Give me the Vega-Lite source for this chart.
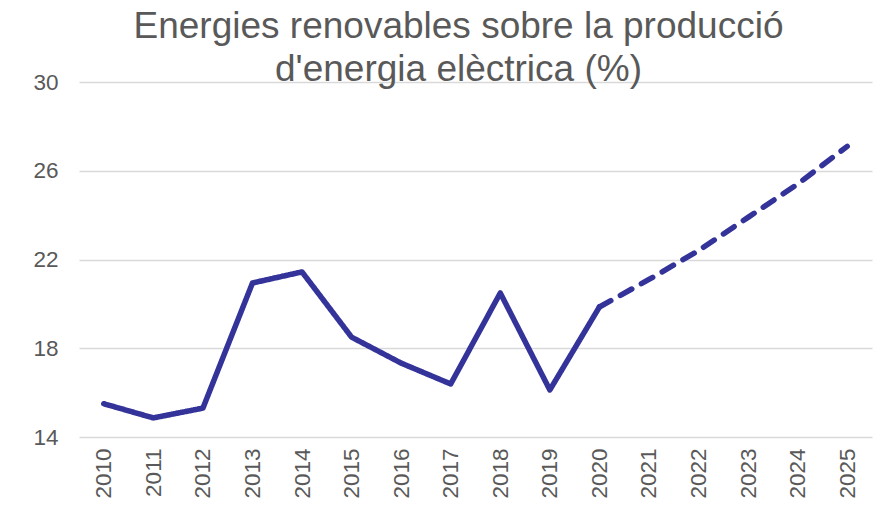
{
  "$schema": "https://vega.github.io/schema/vega-lite/v6.json",
  "autosize": "none",
  "width": 793,
  "height": 355,
  "padding": {"left": 79, "top": 82, "right": 10, "bottom": 69},
  "background": "white",
  "title": {
    "text": ["Energies renovables sobre la producció", "d'energia elèctrica (%)"],
    "font": "Liberation Sans",
    "fontSize": 37,
    "fontWeight": "normal",
    "color": "#595959",
    "lineHeight": 43,
    "anchor": "middle",
    "dx": -17,
    "offset": -18
  },
  "config": {
    "view": {"stroke": null},
    "axis": {
      "labelFont": "Liberation Sans",
      "labelFontSize": 22.5,
      "labelColor": "#595959",
      "domain": false,
      "ticks": false,
      "title": null
    }
  },
  "data": {
    "values": [
      {"year": "2010", "value": 15.5, "serie": "real"},
      {"year": "2011", "value": 14.86, "serie": "real"},
      {"year": "2012", "value": 15.3, "serie": "real"},
      {"year": "2013", "value": 20.94, "serie": "real"},
      {"year": "2014", "value": 21.44, "serie": "real"},
      {"year": "2015", "value": 18.5, "serie": "real"},
      {"year": "2016", "value": 17.33, "serie": "real"},
      {"year": "2017", "value": 16.39, "serie": "real"},
      {"year": "2018", "value": 20.49, "serie": "real"},
      {"year": "2019", "value": 16.12, "serie": "real"},
      {"year": "2020", "value": 19.86, "serie": "real"},
      {"year": "2020", "value": 19.86, "serie": "previsio"},
      {"year": "2021", "value": 21.1, "serie": "previsio"},
      {"year": "2022", "value": 22.4, "serie": "previsio"},
      {"year": "2023", "value": 23.9, "serie": "previsio"},
      {"year": "2024", "value": 25.4, "serie": "previsio"},
      {"year": "2025", "value": 27.1, "serie": "previsio"}
    ]
  },
  "mark": {"type": "line", "color": "#333399", "strokeWidth": 5.5, "strokeCap": "round", "strokeJoin": "round"},
  "encoding": {
    "x": {
      "field": "year",
      "type": "ordinal",
      "scale": {"type": "point", "padding": 0.5},
      "axis": {"labelAngle": -90, "labelPadding": 11, "grid": false}
    },
    "y": {
      "field": "value",
      "type": "quantitative",
      "scale": {"domain": [14, 30], "nice": false, "zero": false},
      "axis": {"values": [14, 18, 22, 26, 30], "labelPadding": 21, "grid": true, "gridColor": "#d9d9d9", "gridWidth": 1.5}
    },
    "strokeDash": {
      "field": "serie",
      "type": "nominal",
      "scale": {"domain": ["real", "previsio"], "range": [[1, 0], [13, 11]]},
      "legend": null
    }
  }
}
